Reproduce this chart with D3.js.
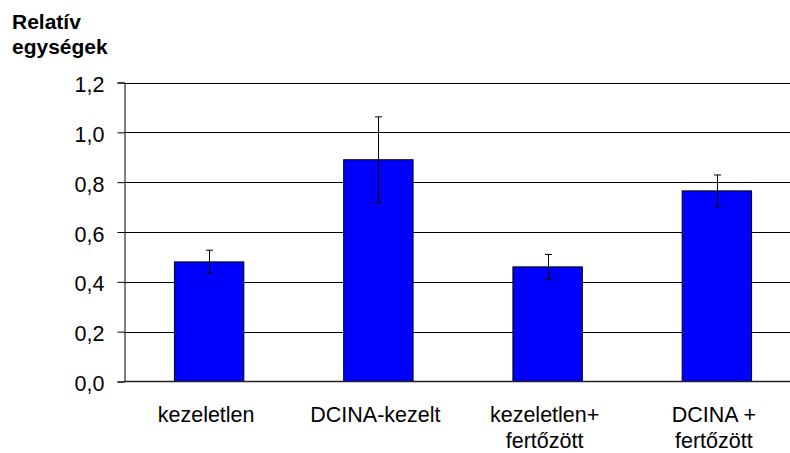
<!DOCTYPE html>
<html>
<head>
<meta charset="utf-8">
<script src="https://cdn.jsdelivr.net/npm/d3@7"></script>
<style>
  body { margin: 0; background: #fff; }
  text { font-family: "Liberation Sans", Arial, sans-serif; fill: #000; }
</style>
</head>
<body>
<div id="chart"></div>
<script>
// Data
const categories = ["kezeletlen", "DCINA-kezelt", "kezeletlen+|fertőzött", "DCINA +|fertőzött"];
const values = [0.48, 0.89, 0.46, 0.765];
const errors = [0.047, 0.172, 0.05, 0.064];
const yTicks = [0, 0.2, 0.4, 0.6, 0.8, 1.0, 1.2];
const yTitle = ["Relatív", "egységek"];

const width = 790;
const height = 453;

const svg = d3.select("#chart")
    .append("svg")
    .attr("width", width)
    .attr("height", height);

// Scales
const x = d3.scaleBand()
    .domain(categories)
    .range([124.5, 801.5])
    .paddingInner(0.59)
    .paddingOuter(0.295);

const y = d3.scaleLinear()
    .domain([0, 1.2])
    .range([381.5, 82.5]);

const fmt = d => d3.format(".1f")(d).replace(".", ",");

// Gridlines
svg.append("g")
    .selectAll("line")
    .data(yTicks.filter(d => d > 0))
    .enter()
    .append("line")
    .attr("x1", 124.5)
    .attr("x2", width)
    .attr("y1", d => Math.round(y(d)) + 0.5)
    .attr("y2", d => Math.round(y(d)) + 0.5)
    .attr("stroke", "#000")
    .attr("stroke-width", 1);

// Y axis
const yAxis = svg.append("g")
    .attr("transform", "translate(124.5,0)")
    .call(d3.axisLeft(y).tickValues(yTicks).tickFormat(fmt).tickSize(7).tickPadding(13));
yAxis.select(".domain").attr("stroke", "#000");
yAxis.selectAll(".tick line").attr("stroke", "#000");
yAxis.selectAll(".tick text")
    .style("font-size", "21.5px")
    .attr("dy", "0.42em");

// Bars
svg.append("g")
    .selectAll("rect")
    .data(values)
    .enter()
    .append("rect")
    .attr("x", (d, i) => x(categories[i]))
    .attr("y", d => y(d))
    .attr("width", x.bandwidth())
    .attr("height", d => y(0) - y(d))
    .attr("fill", "#0000FF")
    .attr("stroke", "#000")
    .attr("stroke-width", 1);

// X axis baseline
svg.append("line")
    .attr("x1", 124.5)
    .attr("x2", width)
    .attr("y1", y(0))
    .attr("y2", y(0))
    .attr("stroke", "#222")
    .attr("stroke-width", 1.5);

// Error bars
const eb = svg.append("g")
    .selectAll("g")
    .data(values)
    .enter()
    .append("g")
    .attr("transform", (d, i) => `translate(${Math.round(x(categories[i]) + x.bandwidth() / 2) + 0.5},0)`);
eb.append("line")
    .attr("y1", (d, i) => y(d + errors[i]))
    .attr("y2", (d, i) => y(d - errors[i]))
    .attr("stroke", "#000");
eb.append("line")
    .attr("x1", -3.5).attr("x2", 3.5)
    .attr("y1", (d, i) => y(d + errors[i]))
    .attr("y2", (d, i) => y(d + errors[i]))
    .attr("stroke", "#000");
eb.append("line")
    .attr("x1", -3.5).attr("x2", 3.5)
    .attr("y1", (d, i) => y(d - errors[i]))
    .attr("y2", (d, i) => y(d - errors[i]))
    .attr("stroke", "#000");

// X labels
const xl = svg.append("g")
    .selectAll("text")
    .data(categories)
    .enter()
    .append("text")
    .attr("text-anchor", "middle")
    .attr("transform", d => `translate(${x(d) + x.bandwidth() / 2 - 3},422)`)
    .style("font-size", "21.5px");
xl.selectAll("tspan")
    .data(d => d.split("|"))
    .enter()
    .append("tspan")
    .attr("x", 0)
    .attr("y", (d, i) => i * 26)
    .text(d => d);

// Y title
svg.append("text")
    .attr("x", 12)
    .attr("y", 29)
    .style("font-size", "21px")
    .style("font-weight", "bold")
    .selectAll("tspan")
    .data(yTitle)
    .enter()
    .append("tspan")
    .attr("x", 12)
    .attr("y", (d, i) => 29 + i * 25)
    .text(d => d);
</script>
</body>
</html>
